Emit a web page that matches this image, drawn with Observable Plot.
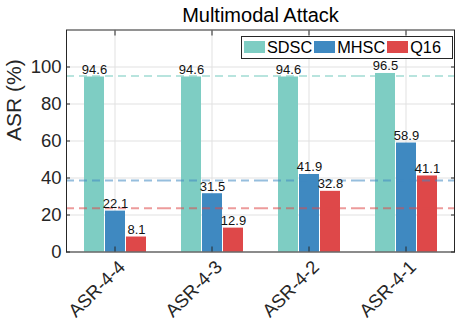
<!DOCTYPE html>
<html><head><meta charset="utf-8">
<script src="https://cdn.jsdelivr.net/npm/d3@7"></script>
<script src="https://cdn.jsdelivr.net/npm/@observablehq/plot@0.6"></script>
<style>
body{margin:0;background:#fff;}
#wrap{position:relative;width:456px;height:324px;font-family:"Liberation Sans",Arial,sans-serif;}
#wrap svg{position:absolute;left:0;top:0;}
#legend{position:absolute;left:241px;top:35.5px;width:212px;height:23px;box-sizing:border-box;border:1px solid #262626;background:#fff;display:flex;align-items:center;padding-left:2px;}
.item{display:flex;align-items:center;margin-right:2px;}
.sw{width:21px;height:12.5px;margin-right:2px;}
.lb{font-size:16.3px;color:#000;line-height:16px;}
</style>
</head><body>
<div id="wrap"></div>
<script>
const categories = ["ASR-4-4", "ASR-4-3", "ASR-4-2", "ASR-4-1"];
const series = ["SDSC", "MHSC", "Q16"];
const sdscValues = [94.6, 94.6, 94.6, 96.5];
const mhscValues = [22.1, 31.5, 41.9, 58.9];
const q16Values = [8.1, 12.9, 32.8, 41.1];
const meanValues = [95.1, 38.6, 23.7];
const colors = ["#7ecdc3", "#3f89c1", "#de4849"];
const yTicks = [0, 20, 40, 60, 80, 100];
const title = "Multimodal Attack";
const yLabel = "ASR (%)";

const valuesBySeries = [sdscValues, mhscValues, q16Values];
const data = series.flatMap((s, j) => categories.map((c, i) => ({category: c, series: s, value: valuesBySeries[j][i]})));
const means = series.map((s, j) => ({series: s, value: meanValues[j]}));

const ink = "#262626";
const font = "Liberation Sans, Arial, Helvetica, sans-serif";

const chart = Plot.plot({
  width: 456, height: 324,
  marginLeft: 64.5, marginRight: 1.5, marginTop: 29.5, marginBottom: 72.5,
  style: {fontFamily: font, color: ink, background: "white", overflow: "visible"},
  fx: {domain: categories, padding: 0, label: null, axis: null},
  x: {domain: series, paddingInner: 0, paddingOuter: 0.8, axis: null},
  y: {domain: [0, 120], axis: null},
  color: {domain: series, range: colors},
  marks: [
    Plot.gridY(yTicks, {stroke: "#e1e1e1", strokeOpacity: 1}),
    Plot.gridFx({stroke: "#e1e1e1", strokeOpacity: 1}),
    Plot.barY(data, {fx: "category", x: "series", y: "value", fill: "series", insetLeft: 0.5, insetRight: 0.5}),
    Plot.ruleY(means, {y: "value", stroke: "series", strokeOpacity: 0.55, strokeWidth: 2, strokeDasharray: "8,5"}),
    Plot.text(data, {fx: "category", x: "series", y: "value", text: d => d.value.toFixed(1), lineAnchor: "bottom", dy: -3, fontSize: 13, fill: "#111"}),
    Plot.axisY(yTicks, {anchor: "left", tickSize: 0, tickPadding: 5, fontSize: 18.5, label: null, fill: ink}),
    Plot.axisY(yTicks, {anchor: "left", tickSize: -4, tickFormat: () => "", label: null, stroke: ink}),
    Plot.axisY(yTicks, {anchor: "right", tickSize: -4, tickFormat: () => "", label: null, stroke: ink}),
    Plot.axisFx({anchor: "top", tickSize: -5, tickFormat: () => "", label: null, stroke: ink}),
    Plot.axisFx({anchor: "bottom", tickSize: -5, tickFormat: () => "", label: null, stroke: ink}),
    Plot.axisFx({anchor: "bottom", tickSize: 0, tickPadding: 6, tickRotate: -45, fontSize: 18.5, dx: 7, dy: 6, label: null, fill: ink}),
    Plot.frame({facet: "super", stroke: ink, strokeWidth: 1}),
    Plot.text([title], {facet: "super", frameAnchor: "top", lineAnchor: "bottom", dy: -8, fontSize: 20, fill: "#000"}),
    Plot.text([yLabel], {facet: "super", frameAnchor: "left", rotate: -90, dx: -52, fontSize: 21, fill: ink})
  ]
});
const wrap = document.getElementById("wrap");
wrap.appendChild(chart);

const legend = document.createElement("div");
legend.id = "legend";
series.forEach((s, j) => {
  const item = document.createElement("div");
  item.className = "item";
  const sw = document.createElement("div");
  sw.className = "sw";
  sw.style.background = colors[j];
  const lb = document.createElement("span");
  lb.className = "lb";
  lb.textContent = s;
  item.appendChild(sw); item.appendChild(lb);
  legend.appendChild(item);
});
wrap.appendChild(legend);
</script>
</body></html>
